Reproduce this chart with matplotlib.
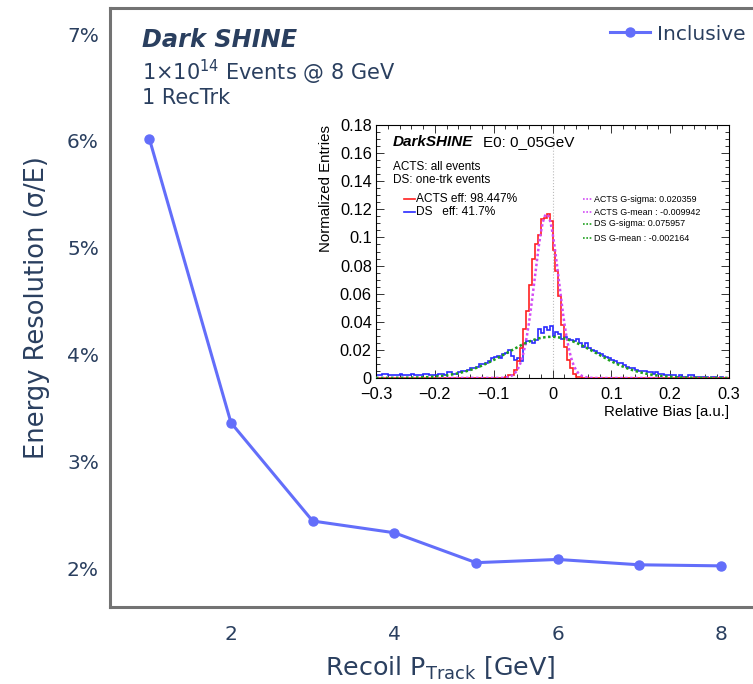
import numpy as np
import matplotlib
matplotlib.use('Agg')
import matplotlib.pyplot as plt
from matplotlib.patches import Rectangle
from matplotlib.ticker import MultipleLocator, FuncFormatter

# main curve
momentum = [1, 2, 3, 4, 5, 6, 7, 8]
resolution = [6.02, 3.36, 2.44, 2.33, 2.05, 2.08, 2.03, 2.02]  # percent

# inset histograms (bin width 0.005, range -0.3..0.3)
hist_lo, hist_hi, n_bins = -0.3, 0.3, 120
acts_first_bin = 44  # bin starting at -0.08
acts_counts = [0.001, 0.002, 0.002, 0.0055, 0.012, 0.021, 0.035, 0.048, 0.066, 0.085,
               0.095, 0.102, 0.113, 0.1136, 0.1165, 0.112, 0.091, 0.076, 0.058, 0.038,
               0.022, 0.013, 0.007, 0.003, 0.001, 0.0005]
ds_counts = [0.002, 0.002, 0.003, 0.003, 0.002, 0.002, 0.002, 0.002, 0.003, 0.002,
             0.002, 0.002, 0.003, 0.002, 0.002, 0.002, 0.003, 0.003, 0.002, 0.002,
             0.002, 0.003, 0.003, 0.002, 0.004, 0.004, 0.003, 0.003, 0.004, 0.005,
             0.005, 0.006, 0.007, 0.007, 0.008, 0.010, 0.010, 0.011, 0.012, 0.014,
             0.015, 0.016, 0.014, 0.017, 0.018, 0.020, 0.016, 0.013, 0.014, 0.012,
             0.024, 0.026, 0.026, 0.025, 0.027, 0.035, 0.032, 0.036, 0.034, 0.037,
             0.030, 0.033, 0.031, 0.028, 0.029, 0.028, 0.027, 0.026, 0.028, 0.025,
             0.022, 0.025, 0.021, 0.020, 0.019, 0.018, 0.017, 0.016, 0.015, 0.014,
             0.013, 0.012, 0.011, 0.011, 0.009, 0.008, 0.007, 0.007, 0.006, 0.005,
             0.005, 0.005, 0.004, 0.004, 0.003, 0.004, 0.003, 0.003, 0.002, 0.002,
             0.002, 0.002, 0.001, 0.002, 0.001, 0.001, 0.002, 0.002, 0.001, 0.001,
             0.001, 0.001, 0.001, 0.000, 0.001, 0.001, 0.000, 0.001, 0.000, 0.000]

# gaussian fit parameters shown in the inset
acts_mean, acts_sigma, acts_amp = -0.009942, 0.020359, 0.1165
ds_mean, ds_sigma, ds_amp = -0.002164, 0.075957, 0.0293

text_col = '#2a3f5f'
line_col = '#636efa'

fig = plt.figure(figsize=(7.53, 6.84), dpi=100)
W, H = 753, 684

ax = fig.add_axes([110 / W, 1 - 607 / H, 660 / W, 599 / H])
ax.plot(momentum, resolution, color=line_col, lw=2.2, marker='o', ms=6.5, label='Inclusive')
px_per_unit = (721 - 231) / 6
ax.set_xlim(2 - 121 / px_per_unit, 2 + (770 - 231) / px_per_unit)
px_per_pct = (568 - 34) / 5
ax.set_ylim(2 - 39 / px_per_pct, 7 + 26 / px_per_pct)
ax.set_xticks([2, 4, 6, 8])
ax.set_yticks([2, 3, 4, 5, 6, 7])
ax.yaxis.set_major_formatter(FuncFormatter(lambda v, _: f'{v:.0f}%'))
ax.tick_params(length=0, labelsize=14.5, labelcolor=text_col)
ax.tick_params(axis='x', pad=13)
ax.tick_params(axis='y', pad=8)
for s in ax.spines.values():
    s.set_color('#737373')
    s.set_linewidth(2.2)
ax.set_xlabel(r'Recoil P$_{\mathregular{Track}}$ [GeV]', fontsize=18.3, color=text_col, labelpad=8)
ax.set_ylabel('Energy Resolution (σ/E)', fontsize=18.5, color=text_col, labelpad=12)

ax.text(142 / W, 1 - 40 / H, 'Dark SHINE', transform=fig.transFigure, fontsize=17.3,
        fontweight='bold', style='italic', color=text_col, va='center')
ax.text(142 / W, 1 - 72 / H, r'1×10$^{14}$ Events @ 8 GeV', transform=fig.transFigure,
        fontsize=15, color=text_col, va='center')
ax.text(142 / W, 1 - 98 / H, '1 RecTrk', transform=fig.transFigure,
        fontsize=15, color=text_col, va='center')

ax.legend(loc='center left', bbox_to_anchor=(610 / W, 1 - 34 / H), bbox_transform=fig.transFigure,
          frameon=False, fontsize=14.5, labelcolor=text_col, handlelength=2.0,
          handletextpad=0.35, borderpad=0, borderaxespad=0)

# white image background of the inset
fig.patches.append(Rectangle((313 / W, 1 - 410 / H), 437 / W, 298 / H, transform=fig.transFigure,
                             facecolor='white', edgecolor='none', zorder=5))

rfont = ['Liberation Sans', 'DejaVu Sans']
ax_in = fig.add_axes([376 / W, 1 - 378 / H, 353 / W, 253 / H], zorder=6)
edges = np.linspace(hist_lo, hist_hi, n_bins + 1)
acts_full = np.zeros(n_bins)
acts_full[acts_first_bin:acts_first_bin + len(acts_counts)] = acts_counts
ax_in.axvline(0, color='#bbbbbb', lw=0.8, ls=':', zorder=1)
ax_in.stairs(ds_counts, edges, color='#2a2aff', lw=1.2, zorder=2)
ax_in.stairs(acts_full, edges, color='#ff2020', lw=1.2, zorder=3)
xf = np.linspace(hist_lo, hist_hi, 600)
ax_in.plot(xf, acts_amp * np.exp(-0.5 * ((xf - acts_mean) / acts_sigma) ** 2),
           color='#d24cf5', lw=1.8, ls=(0, (1, 1)), zorder=4)
ax_in.plot(xf, ds_amp * np.exp(-0.5 * ((xf - ds_mean) / ds_sigma) ** 2),
           color='#1ea01e', lw=1.8, ls=(0, (1, 1)), zorder=4)
ax_in.set_xlim(hist_lo, hist_hi)
ax_in.set_ylim(0, 0.18)
ax_in.xaxis.set_major_locator(MultipleLocator(0.1))
ax_in.xaxis.set_minor_locator(MultipleLocator(0.02))
ax_in.yaxis.set_major_locator(MultipleLocator(0.02))
ax_in.yaxis.set_minor_locator(MultipleLocator(0.005))
fmt = FuncFormatter(lambda v, _: '0' if abs(v) < 1e-9 else f'{v:g}'.replace('-', '\u2212'))
ax_in.xaxis.set_major_formatter(fmt)
ax_in.yaxis.set_major_formatter(fmt)
ax_in.tick_params(which='both', direction='in', top=True, right=True, width=0.7, color='#333333')
ax_in.tick_params(which='major', length=6)
ax_in.tick_params(which='minor', length=3)
ax_in.tick_params(axis='x', pad=6.5, labelsize=11.8)
ax_in.tick_params(axis='y', pad=3, labelsize=11.8)
for lab in ax_in.get_xticklabels() + ax_in.get_yticklabels():
    lab.set_family(rfont)
for s in ax_in.spines.values():
    s.set_linewidth(0.8)

ax_in.text(-0.142, 1.0, 'Normalized Entries', transform=ax_in.transAxes, rotation=90,
           ha='center', va='top', fontsize=10.8, family=rfont)
ax_in.text(1.0, -0.135, 'Relative Bias [a.u.]', transform=ax_in.transAxes,
           ha='right', va='center', fontsize=10.8, family=rfont)
ax_in.text(0.048, 0.933, 'DarkSHINE', transform=ax_in.transAxes, fontsize=11,
           fontweight='bold', style='italic', va='center', family=rfont)
ax_in.text(0.303, 0.933, 'E0: 0_05GeV', transform=ax_in.transAxes, fontsize=11,
           va='center', family=rfont)
ax_in.text(0.048, 0.834, 'ACTS: all events', transform=ax_in.transAxes, fontsize=8.5,
           va='center', family=rfont)
ax_in.text(0.048, 0.783, 'DS: one-trk events', transform=ax_in.transAxes, fontsize=8.5,
           va='center', family=rfont)

for yy, col, txt in [(0.7075, '#ff2020', 'ACTS eff: 98.447%'), (0.656, '#2a2aff', 'DS   eff: 41.7%')]:
    ax_in.plot([0.079, 0.110], [yy, yy], color=col, lw=1.2, transform=ax_in.transAxes)
    ax_in.text(0.113, yy, txt, transform=ax_in.transAxes, fontsize=8.6, va='center', family=rfont)

fit_rows = [(0.7075, '#d24cf5', 'ACTS G-sigma: 0.020359'),
            (0.656, '#d24cf5', 'ACTS G-mean : -0.009942'),
            (0.609, '#1ea01e', 'DS G-sigma: 0.075957'),
            (0.553, '#1ea01e', 'DS G-mean : -0.002164')]
for yy, col, txt in fit_rows:
    ax_in.plot([0.586, 0.615], [yy, yy], color=col, lw=1.2, ls=(0, (1, 1)), transform=ax_in.transAxes)
    ax_in.text(0.618, yy, txt, transform=ax_in.transAxes, fontsize=6.4, va='center', family=rfont)

fig.savefig('out.png', dpi=100)
